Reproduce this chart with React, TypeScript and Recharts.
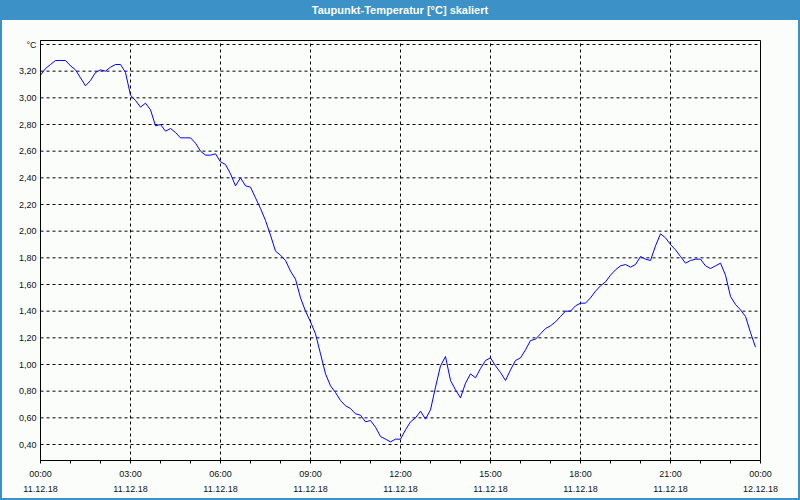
import { LineChart, Line, XAxis, YAxis, CartesianGrid, ReferenceLine } from 'recharts';

// dew point readings, one every 10 minutes from 00:00 to 23:50
const dewPoint = [
    3.17, 3.22, 3.25, 3.28, 3.28, 3.28, 3.24, 3.21, 3.15, 3.09,
    3.13, 3.19, 3.21, 3.2, 3.23, 3.25, 3.25, 3.19, 3.02, 2.98,
    2.93, 2.96, 2.91, 2.79, 2.8, 2.75, 2.77, 2.74, 2.7, 2.7,
    2.7, 2.66, 2.6, 2.57, 2.57, 2.58, 2.52, 2.5, 2.43, 2.34,
    2.4, 2.34, 2.33, 2.25, 2.17, 2.08, 1.97, 1.85, 1.82, 1.78,
    1.7, 1.64, 1.5, 1.4, 1.32, 1.23, 1.08, 0.93, 0.84, 0.79,
    0.73, 0.69, 0.67, 0.63, 0.62, 0.57, 0.58, 0.53, 0.46, 0.44,
    0.42, 0.44, 0.44, 0.51, 0.57, 0.6, 0.65, 0.59, 0.66, 0.83,
    0.99, 1.06, 0.88, 0.81, 0.75, 0.86, 0.93, 0.9, 0.97, 1.03,
    1.05, 0.99, 0.94, 0.88, 0.96, 1.03, 1.05, 1.11, 1.18, 1.19,
    1.23, 1.27, 1.29, 1.32, 1.36, 1.4, 1.4, 1.44, 1.46, 1.46,
    1.5, 1.55, 1.59, 1.62, 1.67, 1.71, 1.74, 1.75, 1.73, 1.75,
    1.81, 1.79, 1.78, 1.89, 1.98, 1.95, 1.9, 1.86, 1.81, 1.76,
    1.78, 1.79, 1.79, 1.74, 1.72, 1.74, 1.76, 1.67, 1.51, 1.45,
    1.41, 1.36, 1.24, 1.13,
];

const hourTicks = [0, 1, 2, 3, 4, 5, 6, 7, 8, 9, 10, 11, 12, 13, 14, 15, 16, 17, 18, 19, 20, 21, 22, 23, 24];
const labelHours = [0, 3, 6, 9, 12, 15, 18, 21, 24];
const timeLabels = ['00:00', '03:00', '06:00', '09:00', '12:00', '15:00', '18:00', '21:00', '00:00'];
const dateLabels = ['11.12.18', '11.12.18', '11.12.18', '11.12.18', '11.12.18', '11.12.18', '11.12.18', '11.12.18', '12.12.18'];
const gridHours = [3, 6, 9, 12, 15, 18, 21];
const yTicks = [0.4, 0.6, 0.8, 1.0, 1.2, 1.4, 1.6, 1.8, 2.0, 2.2, 2.4, 2.6, 2.8, 3.0, 3.2, 3.4];

const data = dewPoint.map((v, i) => ({ h: i / 6, v }));

const BLUE = '#3c91c6';
const FONT = '"Liberation Sans", Arial, sans-serif';

const TimeTick = (props: any) => {
    const { x, y, payload } = props;
    const idx = labelHours.indexOf(payload.value);
    if (idx < 0) return null;
    return (
        <g>
            <text x={x} y={y + 11} textAnchor="middle" fontSize={9} fill="#111" fontFamily={FONT}>
                {timeLabels[idx]}
            </text>
            <text x={x} y={y + 26.5} textAnchor="middle" fontSize={9} fill="#111" fontFamily={FONT}>
                {dateLabels[idx]}
            </text>
        </g>
    );
};

const fmtY = (v: number) => (v > 3.3 ? '°C' : v.toFixed(2).replace('.', ','));

export default function App() {
    return (
        <div style={{ position: 'absolute', left: 0, top: 0, width: 800, height: 500, fontFamily: FONT }}>
            <div
                style={{
                    position: 'absolute', left: 0, top: 0, width: 800, height: 20, background: BLUE,
                    color: '#fff', fontWeight: 'bold', fontSize: 11, lineHeight: '20px', textAlign: 'center',
                }}
            >
                Taupunkt-Temperatur [°C] skaliert
            </div>
            <div
                style={{
                    position: 'absolute', left: 0, top: 20, width: 800, height: 480, boxSizing: 'border-box',
                    background: '#fbfdfb', borderLeft: `2px solid ${BLUE}`, borderRight: `2px solid ${BLUE}`,
                    borderBottom: `2px solid ${BLUE}`,
                }}
            />
            <div style={{ position: 'absolute', left: 0, top: 0 }}>
                <LineChart width={800} height={500} data={data} margin={{ top: 40.5, right: 39.5, bottom: 0, left: 0 }}>
                    <CartesianGrid vertical={false} stroke="#000" strokeDasharray="3 3" />
                    {gridHours.map((h) => (
                        <ReferenceLine key={h} x={h} stroke="#000" strokeDasharray="3 3" />
                    ))}
                    <ReferenceLine y={3.43} stroke="#000" />
                    <ReferenceLine x={24} stroke="#000" />
                    <XAxis
                        dataKey="h"
                        type="number"
                        domain={[0, 24]}
                        ticks={hourTicks}
                        interval={0}
                        height={39.5}
                        tickSize={3}
                        tickMargin={2}
                        stroke="#000"
                        tick={<TimeTick />}
                    />
                    <YAxis
                        type="number"
                        domain={[0.28, 3.43]}
                        ticks={yTicks}
                        interval={0}
                        width={40.5}
                        tickSize={0}
                        tickMargin={4}
                        tickLine={false}
                        stroke="#000"
                        tickFormatter={fmtY}
                        tick={{ fontSize: 9, fill: '#111', fontFamily: FONT }}
                    />
                    <Line
                        type="linear"
                        dataKey="v"
                        stroke="#0000ff"
                        strokeWidth={1}
                        dot={false}
                        isAnimationActive={false}
                    />
                </LineChart>
            </div>
        </div>
    );
}
